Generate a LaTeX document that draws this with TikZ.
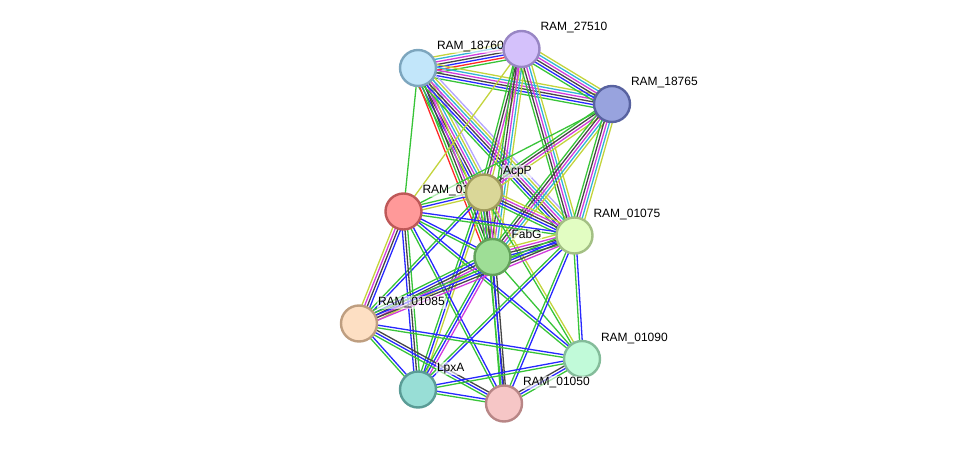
\documentclass[tikz,border=0pt]{standalone}
\usepackage{fontspec}
\setmainfont{Liberation Sans}
\usetikzlibrary{calc,backgrounds}
\definecolor{eg}{RGB}{56,196,56}
\definecolor{er}{RGB}{255,40,40}
\definecolor{eb}{RGB}{40,40,255}
\definecolor{ek}{RGB}{70,70,70}
\definecolor{em}{RGB}{210,60,220}
\definecolor{ec}{RGB}{50,180,215}
\definecolor{ey}{RGB}{195,212,60}
\definecolor{el}{RGB}{180,165,255}
\newcommand\stredge[4]{%
  \foreach \cc [count=\ii] in {#4}{%
    \pgfmathsetmacro\off{(\ii-(#3+1)/2)*2.7}%
    \draw[edgeline,draw=e\cc] ($(#1)!\off pt!90:(#2)$) -- ($(#2)!\off pt!-90:(#1)$);}}
\begin{document}
\begin{tikzpicture}[x=1pt,y=-1pt,
  prot/.style={circle,minimum size=36pt,inner sep=0pt,line width=2.4pt},
  lbl/.style={anchor=base west,inner sep=0.8pt,font=\fontsize{12}{14}\selectfont,fill=white,fill opacity=0.6,text opacity=1},
  edgeline/.style={line width=1.3pt}]
\useasboundingbox (0,0) rectangle (975,449);
% nodes and labels
\node[prot,fill={rgb,255:red,194;green,230;blue,250},draw={rgb,255:red,125;green,166;blue,190}] (A) at (418,68) {};
\node[lbl] (lA) at (436,50) {RAM\_18760};
\node[prot,fill={rgb,255:red,212;green,193;blue,251},draw={rgb,255:red,152;green,134;blue,196}] (B) at (521.5,49) {};
\node[lbl] (lB) at (539.5,31) {RAM\_27510};
\node[prot,fill={rgb,255:red,152;green,163;blue,222},draw={rgb,255:red,88;green,98;blue,160}] (C) at (612,104) {};
\node[lbl] (lC) at (630,86) {RAM\_18765};
\node[prot,fill={rgb,255:red,255;green,153;blue,153},draw={rgb,255:red,190;green,88;blue,88}] (E) at (403.5,211.5) {};
\node[lbl] (lE) at (421.5,193.5) {RAM\_01080};
\node[prot,fill={rgb,255:red,218;green,215;blue,152},draw={rgb,255:red,160;green,156;blue,92}] (D) at (484,192.5) {};
\node[lbl] (lD) at (502,174.5) {AcpP};
\node[prot,fill={rgb,255:red,158;green,222;blue,150},draw={rgb,255:red,98;green,162;blue,90}] (F) at (492.5,257) {};
\node[lbl] (lF) at (510.5,239) {FabG};
\node[prot,fill={rgb,255:red,226;green,253;blue,194},draw={rgb,255:red,163;green,192;blue,132}] (G) at (574.5,235.5) {};
\node[lbl] (lG) at (592.5,217.5) {RAM\_01075};
\node[prot,fill={rgb,255:red,253;green,223;blue,195},draw={rgb,255:red,190;green,158;blue,128}] (H) at (359,323.5) {};
\node[lbl] (lH) at (377,305.5) {RAM\_01085};
\node[prot,fill={rgb,255:red,193;green,250;blue,217},draw={rgb,255:red,132;green,188;blue,154}] (I) at (582,359) {};
\node[lbl] (lI) at (600,341) {RAM\_01090};
\node[prot,fill={rgb,255:red,152;green,222;blue,214},draw={rgb,255:red,90;green,156;blue,150}] (J) at (418,389.5) {};
\node[lbl] (lJ) at (436,371.5) {LpxA};
\node[prot,fill={rgb,255:red,246;green,198;blue,198},draw={rgb,255:red,184;green,134;blue,134}] (K) at (504,403.5) {};
\node[lbl] (lK) at (522,385.5) {RAM\_01050};
% edges
\begin{pgfonlayer}{background}
\stredge{A}{B}{7}{g,r,b,k,m,c,y}
\stredge{A}{C}{6}{g,b,k,m,c,y}
\stredge{B}{C}{6}{g,b,k,m,c,y}
\stredge{A}{D}{7}{g,b,k,m,c,y,l}
\stredge{A}{F}{5}{r,g,k,m,y}
\stredge{A}{G}{7}{g,b,k,m,c,y,l}
\stredge{A}{E}{1}{g}
\stredge{B}{D}{4}{g,k,m,y}
\stredge{B}{F}{5}{g,k,m,c,y}
\stredge{B}{G}{5}{g,k,m,c,y}
\stredge{B}{E}{1}{y}
\stredge{C}{D}{4}{g,k,m,y}
\stredge{C}{F}{5}{g,k,m,c,y}
\stredge{C}{G}{5}{g,k,m,c,y}
\stredge{C}{E}{1}{g}
\stredge{D}{E}{3}{g,b,y}
\stredge{D}{F}{5}{g,b,k,m,y}
\stredge{D}{G}{5}{g,b,k,m,y}
\stredge{D}{H}{2}{g,b}
\stredge{D}{J}{3}{g,b,y}
\stredge{D}{K}{2}{g,k}
\stredge{D}{I}{2}{g,y}
\stredge{E}{F}{2}{g,b}
\stredge{E}{G}{2}{g,b}
\stredge{E}{H}{4}{y,m,k,b}
\stredge{E}{J}{3}{b,k,g}
\stredge{E}{K}{2}{g,b}
\stredge{E}{I}{2}{g,b}
\stredge{F}{G}{5}{g,b,k,m,y}
\stredge{F}{H}{5}{g,b,k,m,y}
\stredge{F}{J}{3}{g,b,m}
\stredge{F}{K}{3}{g,b,k}
\stredge{F}{I}{1}{g}
\stredge{G}{H}{4}{g,b,k,m}
\stredge{G}{J}{2}{g,b}
\stredge{G}{K}{2}{g,b}
\stredge{G}{I}{2}{g,b}
\stredge{H}{J}{2}{g,b}
\stredge{H}{K}{3}{g,b,k}
\stredge{H}{I}{2}{g,b}
\stredge{J}{K}{2}{g,b}
\stredge{J}{I}{2}{g,b}
\stredge{K}{I}{3}{g,b,k}
\end{pgfonlayer}
\end{tikzpicture}
\end{document}
